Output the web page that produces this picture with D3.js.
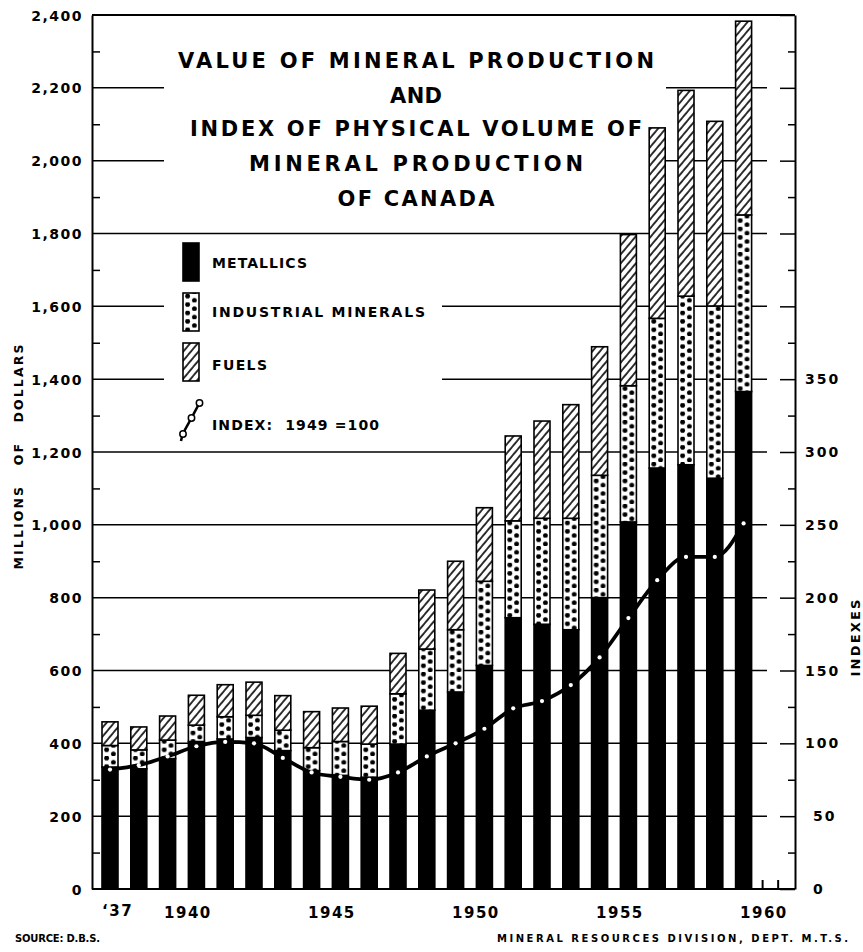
<!DOCTYPE html>
<html>
<head>
<meta charset="utf-8">
<script src="https://d3js.org/d3.v7.min.js"></script>
<style>
  body { margin: 0; background: #fff; }
  text { font-family: "DejaVu Sans", sans-serif; font-weight: bold; fill: #000; }
</style>
</head>
<body>
<div id="chart"></div>
<script>
// values: millions of dollars, index 1949 = 100
var years = [1937, 1938, 1939, 1940, 1941, 1942, 1943, 1944, 1945, 1946, 1947, 1948,
             1949, 1950, 1951, 1952, 1953, 1954, 1955, 1956, 1957, 1958, 1959];
var metallics  = [335, 330, 358, 405, 412, 416, 380, 325, 312, 307, 398, 491,
                  541, 614, 745, 727, 712, 800, 1008, 1156, 1165, 1128, 1366];
var industrial = [59, 52, 51, 45, 61, 61, 56, 63, 93, 91, 138, 168,
                  171, 231, 266, 291, 306, 336, 374, 411, 463, 473, 485];
var fuels      = [65, 63, 66, 82, 88, 91, 95, 99, 92, 104, 111, 162,
                  188, 202, 233, 267, 312, 353, 415, 523, 565, 507, 532];
var index      = [82, 85, 91, 98, 101, 100, 90, 80, 77, 75, 80, 91,
                  100, 110, 124, 129, 140, 159, 186, 212, 228, 228, 251];

var leftTicks = [0, 200, 400, 600, 800, 1000, 1200, 1400, 1600, 1800, 2000, 2200, 2400];
var rightTicks = [0, 50, 100, 150, 200, 250, 300, 350];
var yearLabels = [1940, 1945, 1950, 1955, 1960];
var titleLines = ["VALUE OF MINERAL PRODUCTION", "AND", "INDEX OF PHYSICAL VOLUME OF",
                  "MINERAL PRODUCTION", "OF CANADA"];
var legendLabels = ["METALLICS", "INDUSTRIAL MINERALS", "FUELS", "INDEX:  1949 =100"];

var width = 863, height = 952;
var plot = {left: 92, right: 795, top: 15, bottom: 889};
var barW = 16;

var svg = d3.select("#chart").append("svg")
    .attr("width", width)
    .attr("height", height);

var x = d3.scaleLinear().domain([1937, 1959]).range([110, 743.6]);
var y = d3.scaleLinear().domain([0, 2400]).range([plot.bottom, plot.top]);
var yIdx = d3.scaleLinear().domain([0, 600]).range([plot.bottom, plot.top]);

// patterns
var defs = svg.append("defs");
var pitch = x(1938) - x(1937);

var hatch = defs.append("pattern")
    .attr("id", "hatch")
    .attr("patternUnits", "userSpaceOnUse")
    .attr("width", 5.8).attr("height", 20)
    .attr("patternTransform", "rotate(40)");
hatch.append("rect").attr("width", 5.8).attr("height", 20).attr("fill", "#fff");
hatch.append("line").attr("x1", 1).attr("x2", 1).attr("y1", 0).attr("y2", 20)
    .attr("stroke", "#000").attr("stroke-width", 1.6);

function dotPattern(id, x0) {
  var p = defs.append("pattern")
      .attr("id", id)
      .attr("patternUnits", "userSpaceOnUse")
      .attr("x", x0).attr("y", 0)
      .attr("width", pitch).attr("height", 8.4);
  p.append("rect").attr("width", pitch).attr("height", 8.4).attr("fill", "#fff");
  p.append("circle").attr("cx", 4.6).attr("cy", 2.1).attr("r", 2.4).attr("fill", "#000");
  p.append("circle").attr("cx", 11.4).attr("cy", 6.3).attr("r", 2.4).attr("fill", "#000");
}
dotPattern("dots", x(1937) - barW / 2);
dotPattern("dotsLegend", 183);

// grid lines
svg.append("g").selectAll("line")
    .data(leftTicks.filter(function(d) { return d > 0 && d < 2400; }))
    .enter().append("line")
    .attr("x1", plot.left).attr("x2", 767)
    .attr("y1", function(d) { return y(d); })
    .attr("y2", function(d) { return y(d); })
    .attr("stroke", "#000").attr("stroke-width", 1.5);

// top border and base line
svg.append("line").attr("x1", plot.left).attr("x2", plot.right)
    .attr("y1", y(2400)).attr("y2", y(2400)).attr("stroke", "#000").attr("stroke-width", 2);
svg.append("line").attr("x1", plot.left).attr("x2", plot.right)
    .attr("y1", y(0)).attr("y2", y(0)).attr("stroke", "#000").attr("stroke-width", 2);

// white blocks behind title and legend
svg.append("rect").attr("x", 164).attr("y", 20).attr("width", 502).attr("height", 202).attr("fill", "#fff");
svg.append("rect").attr("x", 164).attr("y", 241).attr("width", 278).attr("height", 203).attr("fill", "#fff");

// stacked bars
var table = years.map(function(yr, i) {
  return {year: yr, metallics: metallics[i], industrial: industrial[i], fuels: fuels[i]};
});
var stack = d3.stack().keys(["metallics", "industrial", "fuels"])(table);
var fills = {metallics: "#000", industrial: "url(#dots)", fuels: "url(#hatch)"};

svg.append("g").selectAll("g")
    .data(stack)
    .enter().append("g")
    .attr("fill", function(d) { return fills[d.key]; })
    .selectAll("rect")
    .data(function(d) { return d; })
    .enter().append("rect")
    .attr("x", function(d) { return x(d.data.year) - barW / 2; })
    .attr("width", barW)
    .attr("y", function(d) { return y(d[1]); })
    .attr("height", function(d) { return y(d[0]) - y(d[1]); })
    .attr("stroke", "#000")
    .attr("stroke-width", 1.6);

// index line
var idxData = years.map(function(yr, i) { return {year: yr, v: index[i]}; });
var valueline = d3.line()
    .x(function(d) { return x(d.year); })
    .y(function(d) { return yIdx(d.v); })
    .curve(d3.curveMonotoneX);
svg.append("path")
    .datum(idxData)
    .attr("d", valueline)
    .attr("fill", "none")
    .attr("stroke", "#000")
    .attr("stroke-width", 3.8);
svg.append("g").selectAll("circle")
    .data(idxData)
    .enter().append("circle")
    .attr("cx", function(d) { return x(d.year); })
    .attr("cy", function(d) { return yIdx(d.v); })
    .attr("r", 2.1)
    .attr("fill", "#fff");

// left axis
var leftAxis = svg.append("g")
    .attr("transform", "translate(" + plot.left + ",0)")
    .call(d3.axisLeft(y).tickValues(leftTicks).tickSize(0).tickPadding(9)
      .tickFormat(d3.format(",")));
leftAxis.select(".domain").attr("stroke-width", 2);
leftAxis.selectAll("text").style("font-size", "14px").style("letter-spacing", "1.5px")
    .attr("dy", "0.36em");

svg.append("g")
    .attr("transform", "translate(" + plot.left + ",0)")
    .call(d3.axisRight(y).tickValues(d3.range(100, 2400, 200)).tickSize(8).tickFormat(""))
    .call(function(g) { g.select(".domain").remove(); })
    .selectAll("line").attr("stroke-width", 1.5);

// right axis
var rightMajor = svg.append("g")
    .attr("transform", "translate(" + plot.right + ",0)")
    .call(d3.axisLeft(yIdx).tickValues(d3.range(0, 601, 50)).tickSize(15).tickFormat("").tickSizeOuter(0));
rightMajor.select(".domain").attr("stroke-width", 2);
rightMajor.selectAll("line").attr("stroke-width", 1.5);

svg.append("g")
    .attr("transform", "translate(" + plot.right + ",0)")
    .call(d3.axisLeft(yIdx).tickValues(d3.range(25, 600, 50)).tickSize(7).tickFormat(""))
    .call(function(g) { g.select(".domain").remove(); })
    .selectAll("line").attr("stroke-width", 1.5);

svg.append("g").selectAll("text")
    .data(rightTicks)
    .enter().append("text")
    .attr("x", function(d) { return d < 100 ? 813 : 805; })
    .attr("y", function(d) { return yIdx(d) + 5; })
    .style("font-size", "14px")
    .style("letter-spacing", "2px")
    .text(function(d) { return d; });

// small ticks on base line after the last bar
svg.append("g").selectAll("line")
    .data([1959.66, 1960.2])
    .enter().append("line")
    .attr("x1", function(d) { return x(d); })
    .attr("x2", function(d) { return x(d); })
    .attr("y1", y(0) - 9).attr("y2", y(0))
    .attr("stroke", "#000").attr("stroke-width", 2);

// year labels
var xAxis = svg.append("g")
    .attr("transform", "translate(-9," + (plot.bottom + 15) + ")")
    .call(d3.axisBottom(x).tickValues(yearLabels).tickSize(0).tickFormat(d3.format("d")));
xAxis.select(".domain").remove();
xAxis.selectAll("text").style("font-size", "15px").style("letter-spacing", "1.5px");

svg.append("text")
    .attr("x", x(1937) - 8).attr("y", 916)
    .style("font-size", "15px").style("letter-spacing", "1.5px")
    .text("\u201837");

// title
var titleY = [68, 103, 136, 171, 206];
var titleLen = [476, 52, 452, 334, 157];
svg.append("g").selectAll("text")
    .data(titleLines)
    .enter().append("text")
    .attr("x", 416)
    .attr("y", function(d, i) { return titleY[i]; })
    .attr("text-anchor", "middle")
    .attr("textLength", function(d, i) { return titleLen[i]; })
    .style("font-size", "21px")
    .text(function(d) { return d; });

// legend
var swatchY = [243, 293, 343];
var swatchFill = ["#000", "url(#dotsLegend)", "url(#hatch)"];
svg.append("g").selectAll("rect")
    .data(swatchY)
    .enter().append("rect")
    .attr("x", 183).attr("width", barW)
    .attr("y", function(d) { return d; })
    .attr("height", 38)
    .attr("fill", function(d, i) { return swatchFill[i]; })
    .attr("stroke", "#000").attr("stroke-width", 1.6);

var legPts = [[183, 434], [191.5, 418], [199.5, 403]];
svg.append("path")
    .attr("d", d3.line().curve(d3.curveCatmullRom)([[181, 441], [183, 434], [191.5, 418], [199.5, 403]]))
    .attr("fill", "none").attr("stroke", "#000").attr("stroke-width", 2.5);
svg.append("g").selectAll("circle")
    .data(legPts)
    .enter().append("circle")
    .attr("cx", function(d) { return d[0]; })
    .attr("cy", function(d) { return d[1]; })
    .attr("r", 3.2)
    .attr("fill", "#fff").attr("stroke", "#000").attr("stroke-width", 1.5);

var legTextY = [268, 317, 369.5, 429.5];
var legTextLen = [95, 213, 55, 167];
svg.append("g").selectAll("text")
    .data(legendLabels)
    .enter().append("text")
    .attr("x", 212)
    .attr("y", function(d, i) { return legTextY[i]; })
    .attr("textLength", function(d, i) { return legTextLen[i]; })
    .style("font-size", "14px")
    .style("white-space", "pre")
    .text(function(d) { return d; });

// axis titles
svg.append("text")
    .attr("transform", "translate(23,457) rotate(-90)")
    .attr("text-anchor", "middle")
    .attr("textLength", 225)
    .style("font-size", "12.5px")
    .style("white-space", "pre")
    .text("MILLIONS   OF   DOLLARS");

svg.append("text")
    .attr("transform", "translate(860,638) rotate(-90)")
    .attr("text-anchor", "middle")
    .attr("textLength", 77)
    .style("font-size", "13px")
    .text("INDEXES");

// footer
svg.append("text")
    .attr("x", 15).attr("y", 942)
    .attr("textLength", 85)
    .style("font-size", "10px")
    .text("SOURCE: D.B.S.");
svg.append("text")
    .attr("x", 497).attr("y", 942)
    .attr("textLength", 351)
    .style("font-size", "10px")
    .text("MINERAL RESOURCES DIVISION, DEPT. M.T.S.");
</script>
</body>
</html>
